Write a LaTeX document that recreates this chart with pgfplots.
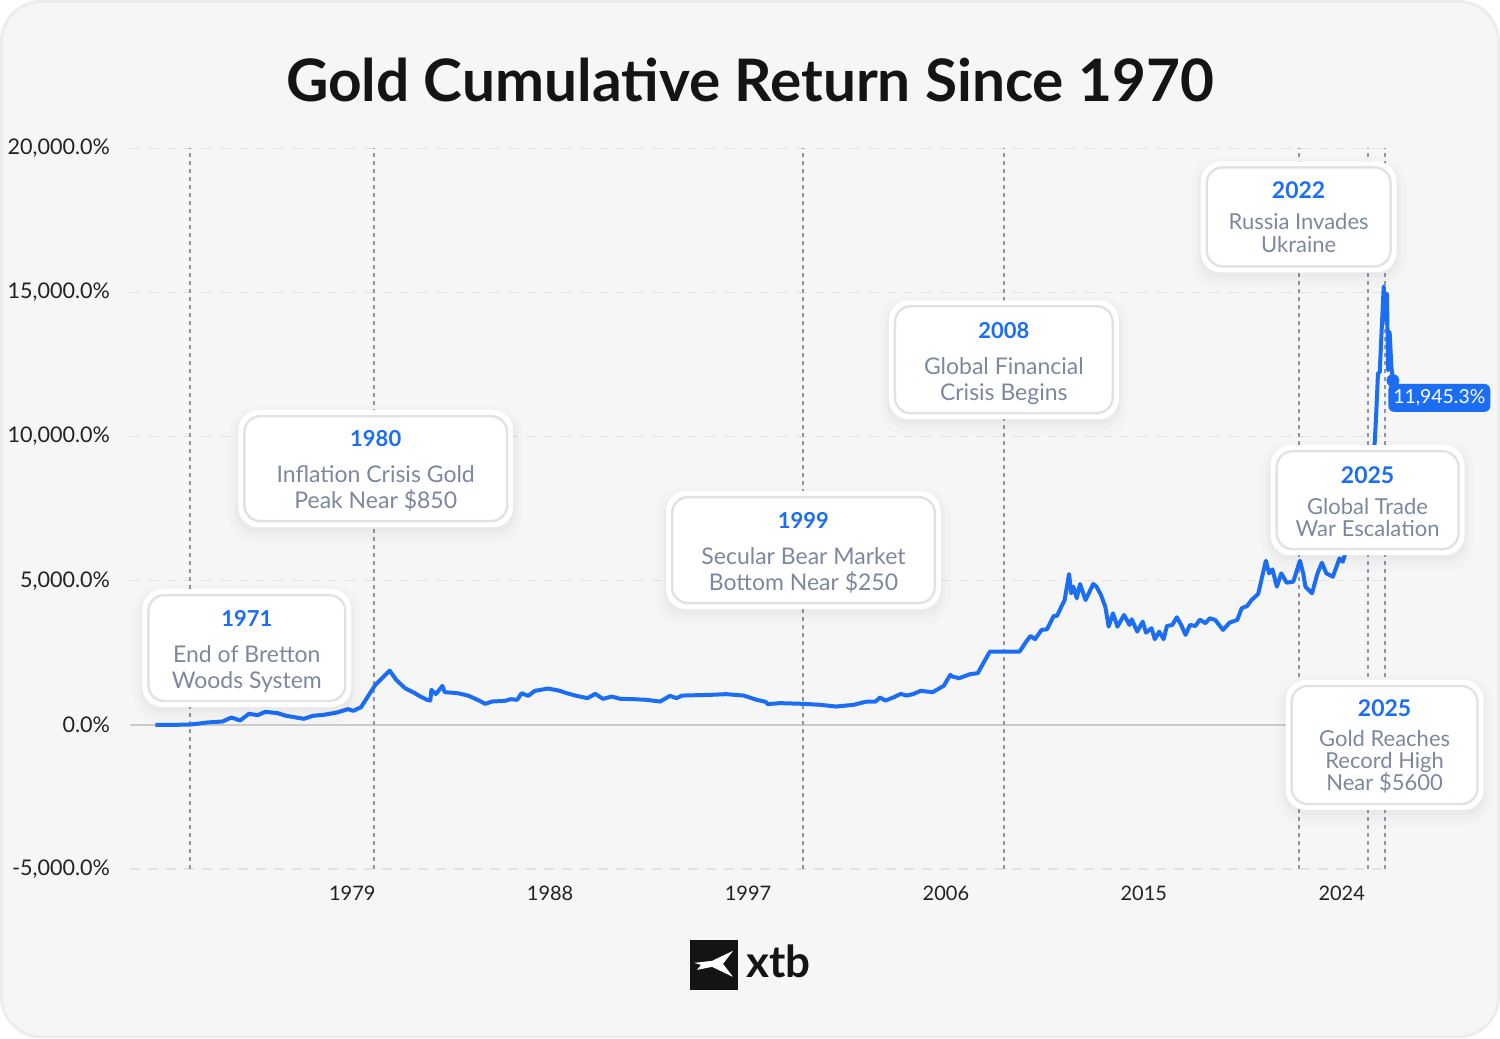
\documentclass[border=0pt]{standalone}
\usepackage{fontspec}
\setmainfont{Lato}
\usepackage{pgfplots}
\pgfplotsset{compat=1.18}
\definecolor{lineblue}{HTML}{1B6EF3}
\definecolor{descgrey}{HTML}{7D879E}
\definecolor{dotgrey}{HTML}{8E95A8}
\definecolor{gridgrey}{HTML}{E2E2E2}
\definecolor{cardbg}{HTML}{F6F6F6}
\definecolor{ticktext}{HTML}{222222}

\pgfplotstableread{
year pct
1970.05 0
1971.0 0
1971.6 10
1972.0 40
1972.4 80
1973.1 115
1973.5 253
1973.9 150
1974.3 381
1974.7 336
1975.05 450
1975.6 405
1976.0 312
1976.8 208
1977.2 312
1977.7 346
1978.3 426
1978.8 544
1979.05 485
1979.4 613
1980.05 1386
1980.7 1882
1981.0 1559
1981.4 1271
1981.8 1119
1982.1 981
1982.4 866
1982.55 842
1982.6 1213
1982.8 1064
1983.1 1351
1983.2 1133
1983.8 1098
1984.3 1005
1984.7 866
1985.05 728
1985.35 807
1985.95 832
1986.2 890
1986.5 866
1986.7 1098
1987.0 1005
1987.3 1178
1987.9 1258
1988.4 1188
1988.75 1098
1989.2 1005
1989.7 925
1990.05 1074
1990.4 901
1990.8 981
1991.2 901
1991.8 890
1992.4 866
1993.0 807
1993.45 1005
1993.75 925
1994.0 1015
1995.3 1040
1996.0 1064
1996.8 1015
1997.4 866
1997.8 797
1997.9 717
1998.45 752
1999.5 728
2000.3 693
2001.0 634
2001.8 693
2002.4 807
2002.8 807
2003.0 946
2003.25 842
2003.6 946
2003.95 1074
2004.2 1015
2004.5 1064
2004.85 1178
2005.4 1133
2005.9 1351
2006.2 1733
2006.3 1674
2006.6 1618
2007.1 1757
2007.45 1791
2007.7 2138
2008.0 2540
2009.35 2540
2009.65 2886
2009.85 3084
2010.05 2970
2010.35 3292
2010.6 3316
2010.9 3777
2011.05 3777
2011.25 4099
2011.4 4331
2011.6 5232
2011.7 4563
2011.8 4792
2011.95 4390
2012.1 4886
2012.35 4331
2012.7 4886
2012.85 4792
2013.05 4505
2013.25 4099
2013.4 3406
2013.6 3870
2013.8 3406
2014.1 3812
2014.35 3465
2014.45 3662
2014.7 3233
2014.95 3579
2015.1 3198
2015.35 3351
2015.5 2970
2015.7 3233
2015.9 2970
2016.05 3430
2016.3 3465
2016.5 3732
2016.7 3465
2016.9 3119
2017.1 3465
2017.35 3430
2017.55 3650
2017.8 3524
2018.0 3697
2018.25 3638
2018.6 3292
2018.9 3545
2019.25 3638
2019.45 4044
2019.7 4123
2019.9 4331
2020.2 4539
2020.55 5693
2020.7 5256
2020.85 5395
2021.05 4792
2021.25 5256
2021.5 4931
2021.8 4966
2022.1 5693
2022.25 5256
2022.35 4792
2022.65 4563
2022.9 5256
2023.1 5624
2023.3 5256
2023.6 5138
2023.9 5776
2024.05 5658
2024.3 6300
2024.6 7000
2024.9 7700
2025.2 8600
2025.5 9761
2025.57 10800
2025.65 12187
2025.73 12242
2025.91 15212
2026.0 14033
2026.06 14958
2026.11 12301
2026.18 13628
2026.26 12415
2026.33 11945.3
}\golddata

\newcommand{\annbox}[4]{% cx, top, width, height (pixels)
  \fill[black,opacity=0.012,rounded corners=14] ({#1-#3/2-16},{#2-10}) rectangle ({#1+#3/2+16},{#2+#4+22});
  \fill[black,opacity=0.015,rounded corners=12] ({#1-#3/2-11},{#2-6}) rectangle ({#1+#3/2+11},{#2+#4+16});
  \fill[black,opacity=0.02,rounded corners=10] ({#1-#3/2-8},{#2-3}) rectangle ({#1+#3/2+8},{#2+#4+11});
  \fill[white,rounded corners=10] ({#1-#3/2-6},{#2-6}) rectangle ({#1+#3/2+6},{#2+#4+6});
  \draw[gridgrey,line width=1.2,fill=white,rounded corners=8] ({#1-#3/2},{#2}) rectangle ({#1+#3/2},{#2+#4});
}

\begin{document}
\begin{tikzpicture}
% background card
\begin{scope}[x=0.5pt,y=-0.5pt,xshift=-65pt,yshift=434.5pt]
  \fill[white] (0,0) rectangle (1500,1038);
  \draw[fill=cardbg,draw=black!7,line width=1.5,rounded corners=20] (1,1) rectangle (1499,1037);
  \node[anchor=base,font=\fontsize{29.3}{35}\selectfont\bfseries,text=black!92] at (750,101) {Gold Cumulative Return Since 1970};
  % logo
  \fill[black!92] (690,940) rectangle (738,990);
  \fill[white] (694,963) -- (712,961) -- (733,951) -- (723,964) -- (733,977) -- (712,967) -- (697,970) -- (701,965) -- cycle;
  \node[anchor=base west,inner sep=0pt,font=\fontsize{22}{26}\selectfont\bfseries,text=black!92] at (746,978) {xtb};
\end{scope}

\begin{axis}[
  at={(0,0)}, anchor=south west, scale only axis,
  width=627.5pt, height=360.5pt,
  xmin=1968.91, xmax=2025.95, ymin=-5000, ymax=20000,
  axis line style={draw=none}, tick style={draw=none}, major tick length=0pt,
  xtick={1979,1988,1997,2006,2015,2024},
  xticklabels={1979,1988,1997,2006,2015,2024},
  ytick={-5000,0,5000,10000,15000,20000},
  yticklabels={{-5,000.0\%},{0.0\%},{5,000.0\%},{10,000.0\%},{15,000.0\%},{20,000.0\%}},
  xticklabel style={font=\fontsize{10}{12}\selectfont,text=ticktext,anchor=base,inner sep=0pt,yshift=-16pt},
  yticklabel style={font=\fontsize{10.8}{12}\selectfont,text=ticktext,anchor=east,inner sep=0pt,xshift=-10pt},
  scaled y ticks=false,
  ymajorgrids, grid style={gridgrey,line width=0.75pt,dash pattern=on 5pt off 4pt},
  clip=false,
]
\addplot[gridgrey!90!black,line width=0.75pt] coordinates {(1968.91,0) (2025.95,0)};
\addplot[dotgrey,line width=1pt,dash pattern=on 2pt off 2pt] coordinates {(1971.6,-5000) (1971.6,20000)};
\addplot[dotgrey,line width=1pt,dash pattern=on 2pt off 2pt] coordinates {(1980.0,-5000) (1980.0,20000)};
\addplot[dotgrey,line width=1pt,dash pattern=on 2pt off 2pt] coordinates {(1999.5,-5000) (1999.5,20000)};
\addplot[dotgrey,line width=1pt,dash pattern=on 2pt off 2pt] coordinates {(2008.64,-5000) (2008.64,20000)};
\addplot[dotgrey,line width=1pt,dash pattern=on 2pt off 2pt] coordinates {(2022.05,-5000) (2022.05,20000)};
\addplot[dotgrey,line width=1pt,dash pattern=on 2pt off 2pt] coordinates {(2025.18,-5000) (2025.18,20000)};
\addplot[dotgrey,line width=1pt,dash pattern=on 2pt off 2pt] coordinates {(2025.95,-5000) (2025.95,20000)};
\addplot[lineblue,line width=2pt,line join=round] table[x=year,y=pct] {\golddata};
\end{axis}

\begin{scope}[x=0.5pt,y=-0.5pt,xshift=-65pt,yshift=434.5pt]
  \annbox{246.5}{595}{197}{106}
  \node[anchor=base,font=\fontsize{11}{13}\selectfont\bfseries,text=lineblue] at (246.5,626) {1971};
  \node[anchor=base,font=\fontsize{11.5}{13}\selectfont,text=descgrey] at (246.5,662) {End of Bretton};
  \node[anchor=base,font=\fontsize{11.5}{13}\selectfont,text=descgrey] at (246.5,688) {Woods System};

  \annbox{375.5}{416}{263}{105}
  \node[anchor=base,font=\fontsize{11}{13}\selectfont\bfseries,text=lineblue] at (375.5,446) {1980};
  \node[anchor=base,font=\fontsize{11.5}{13}\selectfont,text=descgrey] at (375.5,482) {Inflation Crisis Gold};
  \node[anchor=base,font=\fontsize{11.5}{13}\selectfont,text=descgrey] at (375.5,508) {Peak Near \$850};

  \annbox{803.5}{497}{263}{106}
  \node[anchor=base,font=\fontsize{11}{13}\selectfont\bfseries,text=lineblue] at (803.5,528) {1999};
  \node[anchor=base,font=\fontsize{11.5}{13}\selectfont,text=descgrey] at (803.5,564) {Secular Bear Market};
  \node[anchor=base,font=\fontsize{11.5}{13}\selectfont,text=descgrey] at (803.5,590) {Bottom Near \$250};

  \annbox{1004}{306}{218}{107}
  \node[anchor=base,font=\fontsize{11}{13}\selectfont\bfseries,text=lineblue] at (1004,338) {2008};
  \node[anchor=base,font=\fontsize{11.5}{13}\selectfont,text=descgrey] at (1004,374) {Global Financial};
  \node[anchor=base,font=\fontsize{11.5}{13}\selectfont,text=descgrey] at (1004,400) {Crisis Begins};

  \annbox{1299}{167}{184}{99}
  \node[anchor=base,font=\fontsize{11.5}{13}\selectfont\bfseries,text=lineblue] at (1299,198) {2022};
  \node[anchor=base,font=\fontsize{11}{12}\selectfont,text=descgrey] at (1299,229) {Russia Invades};
  \node[anchor=base,font=\fontsize{11}{12}\selectfont,text=descgrey] at (1299,252) {Ukraine};

  \annbox{1368}{451}{182}{98}
  \node[anchor=base,font=\fontsize{11.5}{13}\selectfont\bfseries,text=lineblue] at (1368,483) {2025};
  \node[anchor=base,font=\fontsize{11}{12}\selectfont,text=descgrey] at (1368,514) {Global Trade};
  \node[anchor=base,font=\fontsize{11}{12}\selectfont,text=descgrey] at (1368,536) {War Escalation};

  \annbox{1385}{686}{186}{118}
  \node[anchor=base,font=\fontsize{11.5}{13}\selectfont\bfseries,text=lineblue] at (1385,716) {2025};
  \node[anchor=base,font=\fontsize{11}{12}\selectfont,text=descgrey] at (1385,747) {Gold Reaches};
  \node[anchor=base,font=\fontsize{11}{12}\selectfont,text=descgrey] at (1385,769) {Record High};
  \node[anchor=base,font=\fontsize{11}{12}\selectfont,text=descgrey] at (1385,791) {Near \$5600};
\end{scope}

\begin{axis}[
  at={(0,0)}, anchor=south west, scale only axis,
  width=627.5pt, height=360.5pt,
  xmin=1968.91, xmax=2025.95, ymin=-5000, ymax=20000,
  hide axis, clip=false,
]
\addplot[only marks,mark=*,mark size=3pt,lineblue] coordinates {(2026.33,11945.3)};
\node[anchor=north west,fill=lineblue,text=white,rounded corners=3pt,inner xsep=2.5pt,inner ysep=0pt,minimum height=14pt,font=\fontsize{9.7}{11}\selectfont,xshift=-2.5pt,yshift=-1.5pt] at (axis cs:2026.33,11945.3) {11,945.3\%};
\end{axis}
\end{tikzpicture}
\end{document}
